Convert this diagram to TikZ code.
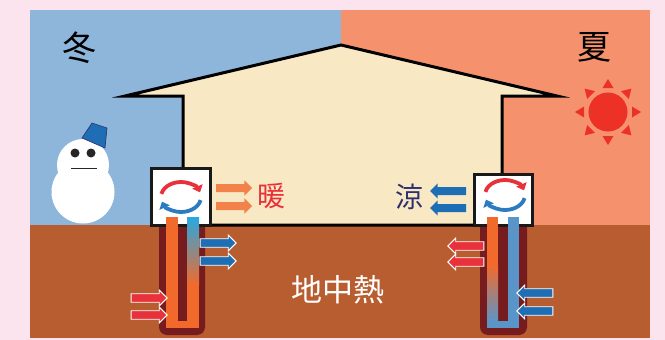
\documentclass[tikz,border=0pt]{standalone}
\usepackage{fontspec}
\setmainfont{Noto Sans CJK JP}
\usetikzlibrary{shapes.arrows,arrows.meta,calc}

\definecolor{pinkbg}{HTML}{FCE4EE}
\definecolor{skyblue}{HTML}{8DB6DA}
\definecolor{skyorange}{HTML}{F5926D}
\definecolor{housefill}{HTML}{F9E8C4}
\definecolor{groundbrown}{HTML}{B85D2F}
\definecolor{bore}{HTML}{761B1E}
\definecolor{pipeorange}{HTML}{F26A2B}
\definecolor{pipeblue}{HTML}{5A95C9}
\definecolor{pipecyan}{HTML}{27A9E1}
\definecolor{arrowblue}{HTML}{1E6EB6}
\definecolor{arrowred}{HTML}{E8313A}
\definecolor{arroworange}{HTML}{F3824A}
\definecolor{cycleblue}{HTML}{2C7BC0}
\definecolor{navy}{HTML}{2D2F6E}
\definecolor{sunred}{HTML}{EE3127}
\definecolor{hatblue}{HTML}{1F6DB5}

\tikzset{
  blockarrow/.style={single arrow, inner xsep=0pt, inner ysep=3.8pt,
    single arrow head extend=3.6pt, minimum height=36pt, draw=none},
  outlined/.style={draw=white, line width=0.9pt},
  leftward/.style={shape border rotate=180},
  label/.style={inner sep=0pt, font=\fontsize{28}{28}\selectfont},
  season/.style={inner sep=0pt, font=\fontsize{34}{34}\selectfont},
  unitbox/.style={draw=black!90, fill=white, line width=3pt},
  cyclemark/.pic={
    \draw[arrowred, line width=3.8pt, -{Triangle[length=6.5pt,width=11pt]}]
      (168:20pt and 15pt) arc[start angle=168, end angle=18, x radius=20pt, y radius=15pt];
    \draw[cycleblue, line width=3.8pt, -{Triangle[length=6.5pt,width=11pt]}]
      (-12:20pt and 15pt) arc[start angle=-12, end angle=-162, x radius=20pt, y radius=15pt];
  }
}

\begin{document}
\begin{tikzpicture}[x=1pt, y=-1pt]
  \useasboundingbox (0,0) rectangle (665,340);
  \fill[pinkbg] (0,0) rectangle (665,340);

  % sky halves and ground
  \fill[skyblue] (30,10) rectangle (341,226);
  \fill[skyorange] (341,10) rectangle (650,226);
  \fill[groundbrown] (30,225) rectangle (650,338);

  % house
  \draw[fill=housefill, line width=3pt, line join=miter, miter limit=20]
    (183,225) -- (183,96) -- (125,96) -- (341,45) -- (557,96) -- (502,96) -- (502,225) -- cycle;

  % seasons
  \node[season] (winter) at (80,48) {冬};
  \node[season] (summer) at (594,47) {夏};

  % snowman
  \fill[white] (83,192) circle[radius=31.5pt];
  \fill[white] (83,165) circle[radius=26pt];
  \draw[fill=hatblue, draw=navy, line width=0.6pt]
    (82,138) -- (92,123) -- (107,128) -- (105,148) -- cycle;
  \fill[black!85] (75,153) circle[radius=4.5pt];
  \fill[black!85] (91,153) circle[radius=4.5pt];
  \draw[black!85, line width=0.8pt] (71,168) -- (97,168);

  % sun
  \fill[sunred] (608,112) circle[radius=19.5pt];
  \foreach \a in {0,45,...,315}
    \fill[sunred, shift={(608,112)}, rotate=\a] (24pt,-5.5pt) -- (33pt,0pt) -- (24pt,5.5pt) -- cycle;

  % boreholes
  \fill[bore, rounded corners=8pt] (159,220) rectangle (205,335);
  \fill[bore, rounded corners=8pt] (480,220) rectangle (527,335);

  % heat pump units
  \draw[unitbox] (151.5,168.5) rectangle (210.5,225);
  \draw[unitbox] (474.5,174.5) rectangle (532.5,225);
  \pic at (181,197) {cyclemark};
  \pic at (505,195) {cyclemark};

  % winter loop
  \fill[pipeorange] (166,217) rectangle (178,328);
  \fill[pipeorange] (166,321) rectangle (199,328);
  \fill[pipeorange] (187,217) rectangle (199,328);
  \shade[top color=pipecyan, bottom color=pipeorange] (187,217) rectangle (199,285);

  % summer loop
  \fill[pipeorange] (487,217) rectangle (498,270);
  \shade[top color=pipeorange, bottom color=pipeblue] (487,265) rectangle (498,322);
  \fill[pipeblue] (487,321) rectangle (519,328);
  \fill[pipeblue] (508,217) rectangle (519,328);

  % heat flow arrows
  \node[blockarrow, fill=arroworange] (warmA) at (232,188) {};
  \node[blockarrow, fill=arroworange] (warmB) at (232,206) {};
  \node[label, text=arrowred] (warm) at (271,196) {暖};

  \node[blockarrow, leftward, fill=arrowblue] (coolA) at (450,191) {};
  \node[blockarrow, leftward, fill=arrowblue] (coolB) at (450,208) {};
  \node[label, text=navy] (cool) at (409,197) {涼};

  \node[blockarrow, outlined, fill=arrowblue] (outA) at (216,243) {};
  \node[blockarrow, outlined, fill=arrowblue] (outB) at (216,261) {};
  \node[blockarrow, outlined, fill=arrowred] (inA) at (147,298) {};
  \node[blockarrow, outlined, fill=arrowred] (inB) at (147,315) {};

  \node[blockarrow, outlined, leftward, fill=arrowred] (dumpA) at (468,246) {};
  \node[blockarrow, outlined, leftward, fill=arrowred] (dumpB) at (468,262) {};
  \node[blockarrow, outlined, leftward, fill=arrowblue] (drawA) at (537,293) {};
  \node[blockarrow, outlined, leftward, fill=arrowblue] (drawB) at (537,311) {};

  \node[inner sep=0pt, text=white, font=\fontsize{31}{31}\selectfont] (geo) at (338,290) {地中熱};
\end{tikzpicture}
\end{document}
